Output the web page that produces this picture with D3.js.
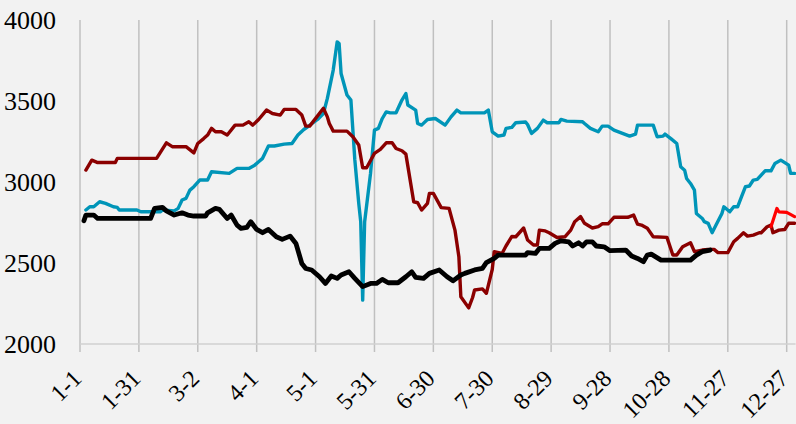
<!DOCTYPE html>
<html>
<head>
<meta charset="utf-8">
<script src="https://cdn.jsdelivr.net/npm/d3@7"></script>
<style>
  html, body { margin: 0; padding: 0; background: #f2f2f2; }
  svg { display: block; }
  text { font-family: "Liberation Serif", "Times New Roman", serif; fill: #000; }
</style>
</head>
<body>
<svg id="chart" width="796" height="424"></svg>
<script>
// ── data (day index from 1-1, value) ─────────────────────
const tickDays   = [0, 30, 60, 90, 120, 150, 180, 210, 240, 270, 300, 330, 360];
const tickLabels = ['1-1', '1-31', '3-2', '4-1', '5-1', '5-31', '6-30', '7-30', '8-29', '9-28', '10-28', '11-27', '12-27'];
const yTicks     = [2000, 2500, 3000, 3500, 4000];

const tealDays = [3, 5, 7, 10, 13, 17, 19, 20, 29, 31, 41, 42, 48, 50, 52, 54, 56, 58, 61, 65, 67, 76, 80, 86, 89, 91,
  93, 96, 99, 104, 108, 111, 114, 116, 121, 124, 126, 129, 131, 132, 133, 136, 138, 140, 142, 143, 144, 145, 148, 150,
  152, 154, 156, 158, 161, 164, 166, 167, 171, 172, 174, 177, 181, 186, 189, 192, 194, 206, 208, 210, 213, 216, 217,
  220, 222, 227, 228, 230, 233, 236, 238, 244, 245, 248, 256, 257, 260, 264, 266, 269, 272, 280, 283, 284, 292, 294,
  297, 298, 301, 304, 306, 308, 309, 311, 313, 314, 317, 318, 320, 322, 324, 327, 328, 331, 333, 335, 337, 339, 341,
  343, 345, 347, 349, 352, 354, 357, 361, 362, 364];
const tealVals = [2827, 2847, 2847, 2878, 2868, 2847, 2843, 2827, 2827, 2816, 2816, 2827, 2822, 2837, 2889, 2899, 2950,
  2971, 3012, 3012, 3063, 3053, 3084, 3084, 3104, 3125,
  3146, 3222, 3222, 3234, 3238, 3290, 3324, 3341, 3386, 3423, 3516, 3691, 3865, 3855, 3670, 3537, 3506, 3136, 2868,
  2755, 2271, 2755, 3053, 3320,
  3331, 3392, 3433, 3427, 3427, 3506, 3546, 3475, 3444, 3361, 3351, 3386, 3392, 3351, 3402, 3444, 3427, 3427, 3444,
  3310, 3283, 3290, 3331,
  3337, 3366, 3370, 3355, 3300, 3331, 3382, 3366, 3366, 3386, 3376, 3372, 3361, 3331, 3310, 3345, 3345, 3320, 3283,
  3296, 3351, 3351, 3279,
  3283, 3296, 3268, 3238, 3094, 3073, 3022, 2991, 2950, 2806, 2775, 2755, 2745, 2687, 2734, 2806, 2847, 2816, 2847,
  2847, 2909, 2971, 2975,
  3012, 3016, 3043, 3069, 3069, 3114, 3135, 3104, 3053, 3053];

const darkRedDays = [3, 6, 9, 18, 19, 39, 44, 47, 54, 58, 60, 63, 65, 67, 69, 72, 75, 79, 83, 86, 88, 91, 95, 98, 102,
  104, 110, 113, 115, 117, 124, 126, 127, 129, 136, 139, 142, 144, 146, 150, 153, 156, 159, 161, 164, 166, 170, 172,
  174, 177, 178, 180, 184, 188, 191, 193, 194, 198, 200, 201, 205, 207, 210, 211, 215, 217, 220, 222, 226, 228, 231,
  233, 234, 237, 239, 243, 247, 250, 252, 255, 257, 261, 264, 266, 269, 272, 279, 282, 284, 286, 289, 292, 299, 302,
  304, 307, 311, 313, 317, 320, 323, 325, 330, 333, 335, 338, 340, 343, 346, 347, 350, 352, 353, 356, 359, 361, 364];
const darkRedVals = [3074, 3135, 3120, 3120, 3146, 3146, 3242, 3218, 3218, 3180, 3238, 3268, 3290, 3331, 3310, 3310,
  3290, 3351, 3351, 3372, 3351, 3386, 3444, 3423, 3413,
  3448, 3448, 3413, 3345, 3345, 3455, 3402, 3361, 3314, 3314, 3279, 3228, 3088, 3088, 3177, 3201, 3242, 3242, 3207,
  3193, 3172, 2878, 2872,
  2827, 2868, 2930, 2930, 2842, 2837, 2703, 2539, 2292, 2223, 2287, 2333, 2340, 2313, 2460, 2570, 2559, 2605, 2664,
  2662, 2716, 2642, 2611,
  2611, 2703, 2698, 2687, 2657, 2662, 2703, 2755, 2786, 2745, 2716, 2724, 2742, 2742, 2782, 2782, 2796, 2740, 2734,
  2714, 2662, 2658, 2549,
  2549, 2600, 2625, 2570, 2580, 2584, 2584, 2564, 2564, 2631, 2652, 2687, 2666, 2672, 2687, 2687, 2724, 2734, 2687,
  2703, 2707, 2745, 2745];

const blackDays = [2, 3, 7, 9, 36, 38, 42, 44, 48, 52, 55, 58, 64, 65, 69, 71, 75, 77, 80, 82, 85, 87, 90, 93, 96, 100,
  103, 107, 110, 113, 115, 118, 122, 125, 128, 131, 133, 137, 140, 144, 148, 151, 154, 157, 162, 166, 169, 171, 175,
  178, 183, 187, 190, 194, 196, 201, 205, 207, 211, 213, 227, 228, 232, 234, 239, 242, 245, 249, 251, 254, 256, 258,
  261, 263, 267, 270, 278, 281, 284, 287, 289, 291, 296, 311, 314, 317, 321];
const blackVals = [2761, 2796, 2796, 2775, 2775, 2837, 2843, 2822, 2796, 2810, 2796, 2790, 2790, 2810, 2837, 2831, 2775,
  2796, 2734, 2714, 2720, 2755, 2707, 2687, 2707, 2662,
  2646, 2666, 2621, 2497, 2466, 2457, 2415, 2374, 2420, 2405, 2426, 2446, 2405, 2354, 2374, 2374, 2399, 2378, 2378,
  2415, 2446, 2411, 2405,
  2436, 2457, 2415, 2390, 2426, 2436, 2457, 2467, 2502, 2528, 2549, 2549, 2564, 2559, 2590, 2590, 2621, 2637, 2631,
  2605, 2625, 2605, 2631,
  2631, 2605, 2600, 2576, 2580, 2543, 2528, 2508, 2549, 2555, 2518, 2518, 2549, 2570, 2580];

const redDays = [352, 355, 356, 360, 364];
const redVals = [2724, 2837, 2816, 2812, 2786];

const series = [
  { days: tealDays,    vals: tealVals,    color: '#0095b8', width: 3.4 },
  { days: darkRedDays, vals: darkRedVals, color: '#8b0000', width: 3.4 },
  { days: blackDays,   vals: blackVals,   color: '#000000', width: 4.8 },
  { days: redDays,     vals: redVals,     color: '#ff0000', width: 3.2 }
];

// ── layout ───────────────────────────────────────────────
const svg = d3.select('#chart');
const x = d3.scaleLinear().domain([0, 360]).range([80, 786.7]);
const y = d3.scaleLinear().domain([2000, 4000]).range([344, 20]);
const xRight = x(364) + 1;

// vertical gridlines (extend below axis as tick marks)
svg.append('g')
  .selectAll('line')
  .data(tickDays)
  .enter()
  .append('line')
    .attr('x1', d => x(d)).attr('x2', d => x(d))
    .attr('y1', y(4000)).attr('y2', y(2000) + 8)
    .attr('stroke', '#c0c0c0')
    .attr('stroke-width', 1.5);

// bottom axis line
svg.append('line')
  .attr('x1', x(0)).attr('x2', xRight)
  .attr('y1', y(2000)).attr('y2', y(2000))
  .attr('stroke', '#d0d0d0')
  .attr('stroke-width', 1.5);

// y labels
svg.append('g')
  .selectAll('text')
  .data(yTicks)
  .enter()
  .append('text')
    .attr('x', 56)
    .attr('y', d => y(d))
    .attr('dy', '0.35em')
    .attr('text-anchor', 'end')
    .attr('font-size', 26)
    .text(d => d);

// x labels, rotated
svg.append('g')
  .selectAll('text')
  .data(tickDays)
  .enter()
  .append('text')
    .attr('transform', d => `translate(${x(d) + 3},380) rotate(-45)`)
    .attr('text-anchor', 'end')
    .attr('font-size', 24)
    .text((d, i) => tickLabels[i]);

// ── lines ────────────────────────────────────────────────
const line = d3.line()
  .x(d => x(d[0]))
  .y(d => y(d[1]));

series.forEach(s => {
  const pts = s.days.map((d, i) => [d, s.vals[i]]);
  svg.append('path')
    .datum(pts)
    .attr('d', line)
    .attr('fill', 'none')
    .attr('stroke', s.color)
    .attr('stroke-width', s.width)
    .attr('stroke-linejoin', 'round')
    .attr('stroke-linecap', 'round');
});
</script>
</body>
</html>
